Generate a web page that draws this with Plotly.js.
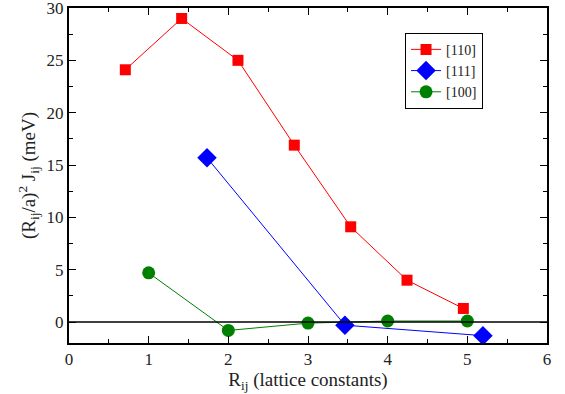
<!DOCTYPE html>
<html><head><meta charset="utf-8">
<script src="https://cdn.plot.ly/plotly-3.0.1.min.js"></script>
<style>body{margin:0;background:#fff}#plot{width:565px;height:394px}</style>
</head><body><div id="plot"></div>
<script>
const x110 = [0.707, 1.414, 2.121, 2.828, 3.536, 4.243, 4.950];
const y110 = [24.1, 29.0, 25.0, 16.9, 9.1, 4.0, 1.3];
const x111 = [1.732, 3.464, 5.196];
const y111 = [15.7, -0.3, -1.3];
const x100 = [1, 2, 3, 4, 5];
const y100 = [4.7, -0.8, -0.1, 0.1, 0.1];
const names = ['[110]', '[111]', '[100]'];

const fam = 'Liberation Serif, DejaVu Serif, Times, serif';
const font = {family: fam, color: '#222', size: 17};
const traces = [
  {x: x110, y: y110, name: names[0], mode: 'lines+markers', line: {color: '#ff0000', width: 1}, marker: {symbol: 'square', size: 11, color: '#ff0000'}},
  {x: x111, y: y111, name: names[1], mode: 'lines+markers', line: {color: '#0000ff', width: 1}, marker: {symbol: 'diamond', size: 15, color: '#0000ff'}},
  {x: x100, y: y100, name: names[2], mode: 'lines+markers', line: {color: '#008000', width: 1}, marker: {symbol: 'circle', size: 13, color: '#008000'}}
];
const axBase = {showgrid: false, zeroline: false, showline: true, linecolor: '#000', linewidth: 2, mirror: 'allticks', ticks: 'inside', ticklen: 7, tickcolor: '#000', tickwidth: 1, tickfont: font,
  ticklabeloverflow: 'allow', minor: {ticks: 'inside', ticklen: 4, tickcolor: '#000', tickwidth: 1}};
const layout = {
  width: 565, height: 394, margin: {l: 69, r: 18, t: 8, b: 51},
  paper_bgcolor: '#fff', plot_bgcolor: '#fff', font: font,
  xaxis: Object.assign({}, axBase, {range: [0, 6.0001], dtick: 1, tick0: 0, minor: Object.assign({}, axBase.minor, {dtick: 0.5}),
    title: {text: 'R<sub>ij</sub> (lattice constants)', font: {family: fam, size: 19, color: '#222'}, standoff: 2}}),
  yaxis: Object.assign({}, axBase, {range: [-2, 30.0001], dtick: 5, tick0: 0, minor: Object.assign({}, axBase.minor, {dtick: 2.5}),
    title: {text: '(R<sub>ij</sub>/a)<sup>2</sup> J<sub>ij</sub> (meV)', font: {family: fam, size: 19, color: '#222'}, standoff: 6}}),
  shapes: [{type: 'line', xref: 'paper', x0: 0, x1: 1, yref: 'y', y0: 0, y1: 0, line: {color: '#000', width: 1.5}}],
  legend: {x: 0.703, y: 0.926, xanchor: 'left', yanchor: 'top', bordercolor: '#000', borderwidth: 1, bgcolor: '#fff',
    font: {family: fam, size: 14, color: '#222'}, tracegroupgap: 0, itemwidth: 30},
  showlegend: true
};
Plotly.newPlot('plot', traces, layout, {displayModeBar: false, staticPlot: true});
</script></body></html>
